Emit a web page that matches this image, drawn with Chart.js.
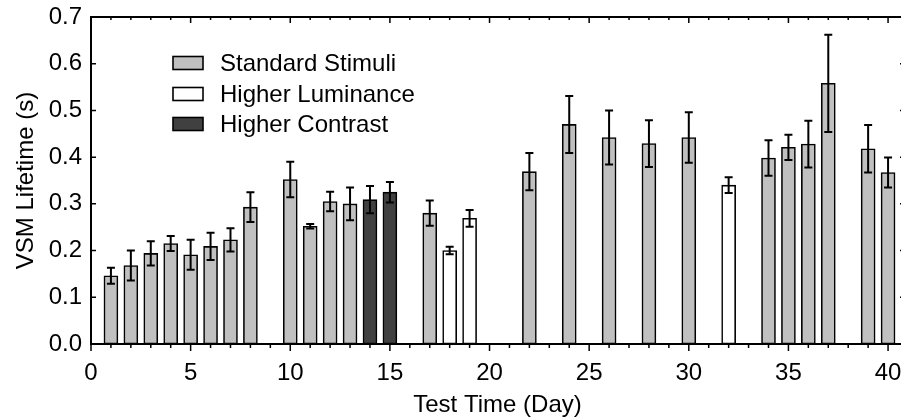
<!DOCTYPE html>
<html>
<head>
<meta charset="utf-8">
<script src="https://cdn.jsdelivr.net/npm/chart.js@4"></script>
<style>
html,body{margin:0;padding:0;background:#fff;overflow:hidden;width:901px;height:418px;}
canvas{display:block;}
</style>
</head>
<body>
<canvas id="c" width="910" height="418"></canvas>
<script>
// ---- data ----
const stdDays  = [1,2,3,4,5,6,7,8,10,11,12,13,17,22,24,26,28,30,34,35,36,37,39,40];
const stdMeans = [0.146,0.168,0.194,0.215,0.191,0.209,0.223,0.293,0.352,0.252,0.305,0.300,0.280,0.369,0.470,0.442,0.429,0.442,0.398,0.421,0.428,0.558,0.418,0.367];
const stdErrs  = [0.017,0.032,0.026,0.016,0.032,0.029,0.025,0.032,0.038,0.005,0.021,0.035,0.027,0.040,0.061,0.058,0.050,0.054,0.038,0.027,0.050,0.104,0.051,0.032];

const lumDays  = [18,19,32];
const lumMeans = [0.200,0.269,0.340];
const lumErrs  = [0.008,0.018,0.017];

const conDays  = [14,15];
const conMeans = [0.309,0.325];
const conErrs  = [0.029,0.022];

const xTickLabels = [0,5,10,15,20,25,30,35,40];
const yTickLabels = [0,0.1,0.2,0.3,0.4,0.5,0.6,0.7];
const xMin = 0, xMax = 40.8, yMin = 0, yMax = 0.7;

const FONT = 'Liberation Sans, Arial, sans-serif';
const FS = 24;

function pts(days, means){ return days.map((d,i)=>({x:d,y:means[i]})); }

const datasets = [
  {label:'Standard Stimuli', data:pts(stdDays,stdMeans), errors:stdErrs, backgroundColor:'#c0c0c0'},
  {label:'Higher Luminance', data:pts(lumDays,lumMeans), errors:lumErrs, backgroundColor:'#ffffff'},
  {label:'Higher Contrast', data:pts(conDays,conMeans), errors:conErrs, backgroundColor:'#404040'}
].map(d=>Object.assign(d,{borderColor:'#000',borderWidth:1.6,borderSkipped:false,grouped:false,barThickness:14}));

const errorBars = {
  id:'errorBars',
  afterDatasetsDraw(chart){
    const {ctx, scales:{x,y}} = chart;
    ctx.save();
    ctx.strokeStyle = '#000';
    ctx.lineWidth = 2;
    chart.data.datasets.forEach(ds=>{
      ds.data.forEach((p,i)=>{
        const e = ds.errors[i];
        const px = x.getPixelForValue(p.x);
        const t = y.getPixelForValue(p.y + e);
        const b = y.getPixelForValue(p.y - e);
        ctx.beginPath();
        ctx.moveTo(px,t); ctx.lineTo(px,b);
        ctx.moveTo(px-4,t); ctx.lineTo(px+4,t);
        ctx.moveTo(px-4,b); ctx.lineTo(px+4,b);
        ctx.stroke();
      });
    });
    ctx.restore();
  }
};

const frame = {
  id:'frame',
  afterDraw(chart){
    const {ctx, chartArea:a, scales:{x,y}} = chart;
    ctx.save();
    ctx.strokeStyle = '#000';
    ctx.lineWidth = 2;
    ctx.beginPath();
    ctx.rect(a.left, a.top, a.right-a.left, a.bottom-a.top);
    ctx.stroke();
    ctx.lineWidth = 1.5;
    ctx.beginPath();
    for(let d=Math.ceil(xMin); d<=Math.floor(xMax); d++){
      const px = x.getPixelForValue(d);
      const major = d%5===0;
      ctx.moveTo(px,a.bottom); ctx.lineTo(px,a.bottom+(major?7:4));
      ctx.moveTo(px,a.top); ctx.lineTo(px,a.top+(major?6:3));
    }
    yTickLabels.forEach(v=>{
      const py = y.getPixelForValue(v);
      ctx.moveTo(a.left,py); ctx.lineTo(a.left+5,py);
      ctx.moveTo(a.right,py); ctx.lineTo(a.right-4,py);
    });
    ctx.stroke();
    ctx.restore();
  }
};

const legendBox = {
  id:'legendBox',
  afterDraw(chart){
    const {ctx} = chart;
    ctx.save();
    ctx.font = FS+'px '+FONT;
    ctx.textBaseline = 'middle';
    const rows = [63,94,124];
    chart.data.datasets.forEach((ds,i)=>{
      const cy = rows[i];
      ctx.fillStyle = ds.backgroundColor;
      ctx.fillRect(173,cy-6.5,30,13);
      ctx.strokeStyle = '#000';
      ctx.lineWidth = 1.6;
      ctx.strokeRect(173,cy-6.5,30,13);
      ctx.fillStyle = '#000';
      ctx.fillText(ds.label,220,cy+1);
    });
    ctx.restore();
  }
};

new Chart(document.getElementById('c'), {
  type:'bar',
  data:{datasets},
  options:{
    responsive:false,
    animation:false,
    devicePixelRatio:1,
    layout:{padding:{left:0,right:6,top:17,bottom:0}},
    plugins:{legend:{display:false},tooltip:{enabled:false}},
    scales:{
      x:{
        type:'linear', min:xMin, max:xMax, offset:false,
        grid:{display:false,drawTicks:false},
        border:{display:false},
        afterBuildTicks(s){ s.ticks = xTickLabels.map(v=>({value:v})); },
        afterFit(s){ s.height = 74; s.paddingLeft = 0; s.paddingRight = 0; },
        ticks:{autoSkip:false,maxRotation:0,padding:15,color:'#000',font:{family:FONT,size:FS},callback:v=>String(v)},
        title:{display:true,text:'Test Time (Day)',color:'#000',font:{family:FONT,size:FS},padding:{top:0,bottom:-1.5}}
      },
      y:{
        min:yMin, max:yMax,
        grid:{display:false,drawTicks:false},
        border:{display:false},
        afterBuildTicks(s){ s.ticks = yTickLabels.map(v=>({value:v})); },
        afterFit(s){ s.width = 91; s.paddingTop = 0; s.paddingBottom = 0; },
        ticks:{padding:9,color:'#000',font:{family:FONT,size:FS},callback:v=>Number(v).toFixed(1)},
        title:{display:true,text:'VSM Lifetime (s)',color:'#000',font:{family:FONT,size:FS},padding:{top:12,bottom:0}}
      }
    }
  },
  plugins:[errorBars,frame,legendBox]
});
</script>
</body>
</html>
